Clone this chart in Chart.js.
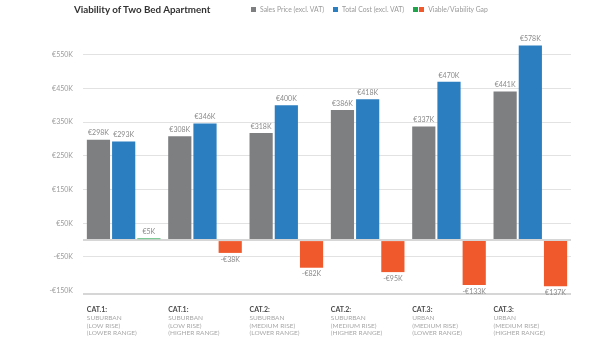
<!DOCTYPE html>
<html lang="en">
<head>
  <meta charset="UTF-8" />
  <title>Viability of Two Bed Apartment</title>
  <style>
    body { margin: 0; background: #fff; font-family: Lato, "Open Sans", sans-serif; }
    .wrap { position: relative; width: 614px; height: 345px; }
    .title { position: absolute; left: 74px; top: 3px; font-size: 9.8px; font-weight: bold; color: #333; }
    .legend { position: absolute; left: 251px; top: 5px; font-size: 6.8px; color: #9a9a9a; display: flex; }
    .legend span.item { display: flex; align-items: center; margin-right: 9px; }
    .legend i { display: inline-block; width: 5px; height: 5px; margin-right: 4px; }
    canvas { position: absolute; left: 0; top: 0; }
  </style>
</head>
<body>
  <div class="wrap">
    <canvas id="chart" width="614" height="345"></canvas>
    <div class="title">Viability of Two Bed Apartment</div>
    <div class="legend">
      <span class="item"><i style="background:#7e7f81"></i>Sales Price (excl. VAT)</span>
      <span class="item"><i style="background:#2b7fc1"></i>Total Cost (excl. VAT)</span>
      <span class="item"><i style="background:#1fa34b;margin-right:1px"></i><i style="background:#f0592b"></i>Viable/Viability Gap</span>
    </div>
  </div>

  <script src="https://cdn.jsdelivr.net/npm/chart.js"></script>
  <script>
    const catTitles = ["CAT.1:", "CAT.1:", "CAT.2:", "CAT.2:", "CAT.3:", "CAT.3:"];
    const catLines = [
      ["SUBURBAN", "(LOW RISE)", "(LOWER RANGE)"],
      ["SUBURBAN", "(LOW RISE)", "(HIGHER RANGE)"],
      ["SUBURBAN", "(MEDIUM RISE)", "(LOWER RANGE)"],
      ["SUBURBAN", "(MEDIUM RISE)", "(HIGHER RANGE)"],
      ["URBAN", "(MEDIUM RISE)", "(LOWER RANGE)"],
      ["URBAN", "(MEDIUM RISE)", "(HIGHER RANGE)"]
    ];
    const salesPrice = [298000, 308000, 318000, 386000, 337000, 441000];
    const totalCost = [293000, 346000, 400000, 418000, 470000, 578000];
    const gap = [5000, -38000, -82000, -95000, -133000, -137000];
    const salesLabels = ["€298K", "€308K", "€318K", "€386K", "€337K", "€441K"];
    const costLabels = ["€293K", "€346K", "€400K", "€418K", "€470K", "€578K"];
    const gapLabels = ["€5K", "-€38K", "-€82K", "-€95K", "-€133K", "€137K"];
    // -160K is the axis floor (drawn as the bottom line, no label)
    const yTicks = [-160000, -150000, -50000, 0, 50000, 150000, 250000, 350000, 450000, 550000];

    const FONT = "Lato, 'Open Sans', sans-serif";

    const valueLabels = {
      id: "valueLabels",
      afterDatasetsDraw(chart) {
        const ctx = chart.ctx;
        const texts = [salesLabels, costLabels, gapLabels];
        ctx.save();
        ctx.font = "7px " + FONT;
        ctx.fillStyle = "#8a8a8a";
        ctx.textAlign = "center";
        chart.data.datasets.forEach((ds, di) => {
          chart.getDatasetMeta(di).data.forEach((bar, i) => {
            if (ds.data[i] >= 0) {
              ctx.textBaseline = "bottom";
              ctx.fillText(texts[di][i], bar.x, bar.y - 3);
            } else {
              ctx.textBaseline = "top";
              ctx.fillText(texts[di][i], bar.x, bar.y + 3);
            }
          });
        });
        ctx.restore();
      }
    };

    const categoryLabels = {
      id: "categoryLabels",
      afterDraw(chart) {
        const ctx = chart.ctx;
        const meta = chart.getDatasetMeta(0);
        ctx.save();
        ctx.textAlign = "left";
        ctx.textBaseline = "middle";
        meta.data.forEach((bar, i) => {
          const x = bar.x - bar.width / 2;
          ctx.font = "bold 7px " + FONT;
          ctx.fillStyle = "#4a4a4a";
          ctx.fillText(catTitles[i], x, 310);
          ctx.font = "6.5px " + FONT;
          ctx.fillStyle = "#a8a8a8";
          catLines[i].forEach((t, k) => ctx.fillText(t, x, 318 + k * 7.7));
        });
        ctx.restore();
      }
    };

    const isHeavy = v => v === 0 || v === -160000;

    new Chart(document.getElementById("chart"), {
      type: "bar",
      data: {
        labels: catTitles,
        datasets: [
          { label: "Sales Price (excl. VAT)", data: salesPrice, backgroundColor: "#7e7f81" },
          { label: "Total Cost (excl. VAT)", data: totalCost, backgroundColor: "#2b7fc1" },
          { label: "Viable/Viability Gap", data: gap,
            backgroundColor: gap.map(v => v >= 0 ? "#1fa34b" : "#f0592b") }
        ]
      },
      options: {
        responsive: false,
        animation: false,
        categoryPercentage: 0.93,
        barPercentage: 0.92,
        layout: { padding: { left: 0, right: 43, top: 38, bottom: 51 } },
        plugins: {
          legend: { display: false },
          tooltip: { enabled: false }
        },
        scales: {
          x: { display: false },
          y: {
            min: -160000,
            max: 600000,
            afterBuildTicks(scale) {
              scale.ticks = yTicks.map(v => ({ value: v }));
            },
            afterFit(scale) {
              scale.width = 83;
            },
            ticks: {
              padding: 10,
              color: "#9a9a9a",
              font: { family: FONT, size: 7 },
              callback(v) {
                if (v === 0 || v === -160000) return "";
                return (v < 0 ? "-€" : "€") + Math.abs(v / 1000) + "K";
              }
            },
            grid: {
              drawTicks: false,
              color: ctx => {
                if (!ctx.tick) return "#e2e2e2";
                if (ctx.tick.value === -150000) return "rgba(0,0,0,0)";
                return isHeavy(ctx.tick.value) ? "#d6d6d6" : "#e2e2e2";
              },
              lineWidth: ctx => (ctx.tick && isHeavy(ctx.tick.value)) ? 2 : 1
            },
            border: { display: false }
          }
        }
      },
      plugins: [valueLabels, categoryLabels]
    });
  </script>
</body>
</html>
